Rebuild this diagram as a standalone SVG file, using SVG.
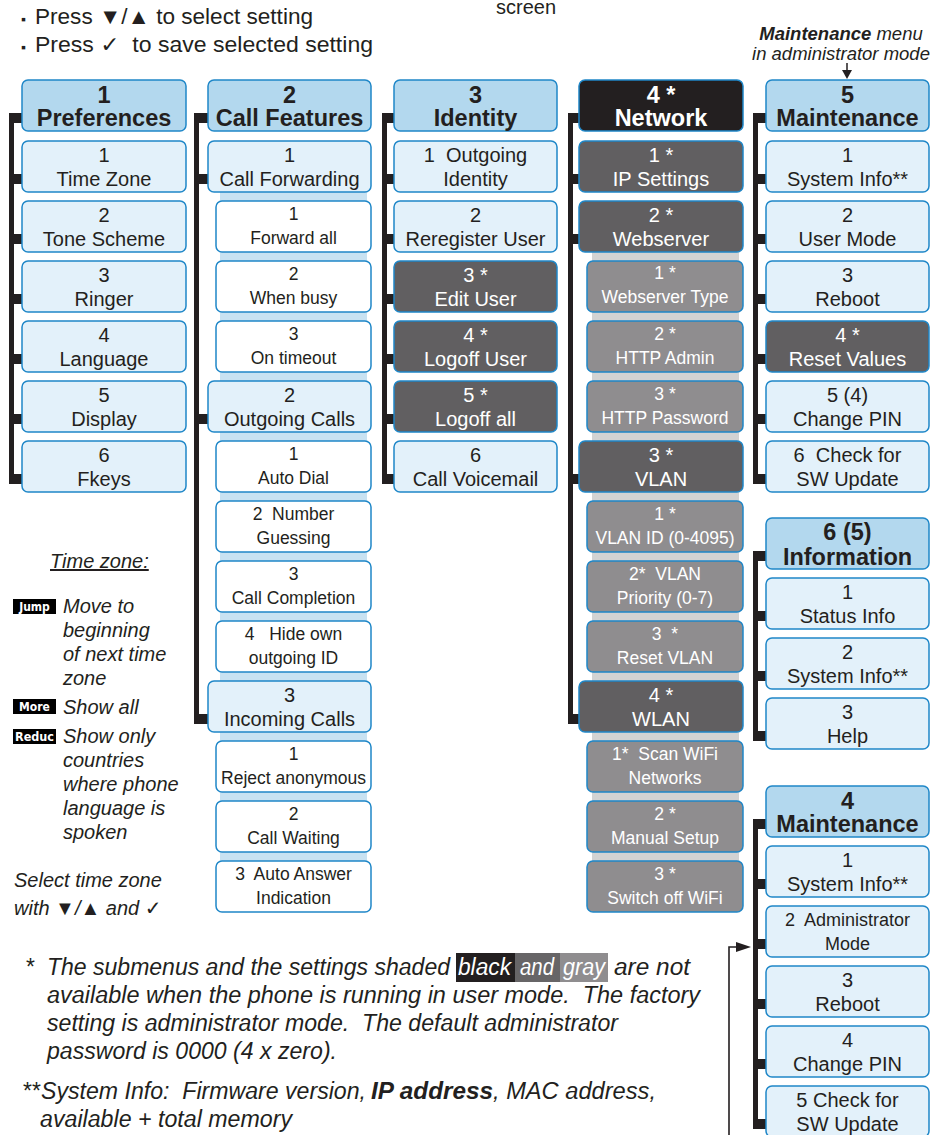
<svg xmlns="http://www.w3.org/2000/svg" width="940" height="1135" viewBox="0 0 940 1135">
<style>
rect.b{stroke:#1f87c8;stroke-width:1.5}
.hd{fill:#b3d8ee}.lt{fill:#e3f1fa}.wh{fill:#ffffff}.dk{fill:#615f61}.md{fill:#8f8d8f}.bk{fill:#231f20}
text{font-family:"Liberation Sans",Arial,"DejaVu Sans",sans-serif;fill:#231f20}
.c{text-anchor:middle}
.h{font-size:23.5px;font-weight:bold}
.m{font-size:20px}
.s{font-size:17.5px}
.w{fill:#ffffff}
.it{font-style:italic;font-size:20px}
.fn{font-style:italic;font-size:23px;white-space:pre}
.ic{font-family:"DejaVu Sans Condensed","DejaVu Sans",sans-serif;font-size:12px;font-weight:bold;fill:#ffffff;text-anchor:middle}
.pre{white-space:pre}
</style>

<!-- top instructions -->
<g id="instructions">
<text class="pre" x="21" y="24" font-size="22"><tspan font-size="14">▪</tspan></text>
<text class="pre" x="35" y="24" font-size="22" textLength="278" lengthAdjust="spacingAndGlyphs">Press ▼/▲ to select setting</text>
<text class="pre" x="21" y="52" font-size="22"><tspan font-size="14">▪</tspan></text>
<text class="pre" x="35" y="52" font-size="22" textLength="338" lengthAdjust="spacingAndGlyphs">Press ✓  to save selected setting</text>
<text x="526" y="14" font-size="20" class="c">screen</text>
<text x="841" y="40" font-size="18.5" class="c" font-style="italic"><tspan font-weight="bold">Maintenance</tspan> menu</text>
<text x="841" y="60" font-size="18.5" class="c" font-style="italic">in administrator mode</text>
</g>

<!-- connectors -->
<g id="connectors" fill="#231f20">
<!-- col1 -->
<rect x="9" y="113" width="5" height="371"/>
<rect x="9" y="113" width="13" height="10"/><rect x="9" y="174" width="13" height="10"/><rect x="9" y="234" width="13" height="10"/><rect x="9" y="294" width="13" height="10"/><rect x="9" y="354" width="13" height="10"/><rect x="9" y="414" width="13" height="10"/><rect x="9" y="474" width="13" height="10"/>
<!-- col2 -->
<rect x="194" y="113" width="5" height="611"/>
<rect x="194" y="113" width="14" height="10"/><rect x="194" y="174" width="14" height="10"/><rect x="194" y="414" width="14" height="10"/><rect x="194" y="714" width="14" height="10"/>
<!-- col3 -->
<rect x="382" y="113" width="5" height="371"/>
<rect x="382" y="113" width="12" height="10"/><rect x="382" y="174" width="12" height="10"/><rect x="382" y="234" width="12" height="10"/><rect x="382" y="294" width="12" height="10"/><rect x="382" y="354" width="12" height="10"/><rect x="382" y="414" width="12" height="10"/><rect x="382" y="474" width="12" height="10"/>
<!-- col4 -->
<rect x="568" y="113" width="5" height="611"/>
<rect x="568" y="113" width="11" height="10"/><rect x="568" y="174" width="11" height="10"/><rect x="568" y="234" width="11" height="10"/><rect x="568" y="474" width="11" height="10"/><rect x="568" y="714" width="11" height="10"/>
<!-- col5 -->
<rect x="753" y="113" width="5" height="371"/>
<rect x="753" y="113" width="13" height="10"/><rect x="753" y="174" width="13" height="10"/><rect x="753" y="234" width="13" height="10"/><rect x="753" y="294" width="13" height="10"/><rect x="753" y="354" width="13" height="10"/><rect x="753" y="414" width="13" height="10"/><rect x="753" y="474" width="13" height="10"/>
<!-- information -->
<rect x="753" y="551" width="5" height="190"/>
<rect x="753" y="551" width="13" height="10"/><rect x="753" y="611" width="13" height="10"/><rect x="753" y="671" width="13" height="10"/><rect x="753" y="731" width="13" height="10"/>
<!-- maintenance user mode -->
<rect x="753" y="819" width="5" height="310"/>
<rect x="753" y="819" width="13" height="10"/><rect x="753" y="879" width="13" height="10"/><rect x="753" y="939" width="13" height="10"/><rect x="753" y="999" width="13" height="10"/><rect x="753" y="1059" width="13" height="10"/><rect x="753" y="1119" width="13" height="10"/>
<!-- arrows -->
<line x1="847" y1="63" x2="847" y2="71" stroke="#231f20" stroke-width="1.5"/>
<polygon points="842,70 852,70 847,79"/>
<path d="M729 1135 V947 H738" fill="none" stroke="#231f20" stroke-width="1.6"/>
<polygon points="736,942 751,947 736,952"/>
<!-- backing strips -->
<rect x="220" y="192" width="147" height="189" fill="#c8e2f2"/>
<rect x="220" y="432" width="147" height="249" fill="#c8e2f2"/>
<rect x="220" y="732" width="147" height="170" fill="#c8e2f2"/>
<rect x="592" y="252" width="147" height="189" fill="#d3d3d3"/>
<rect x="592" y="492" width="147" height="189" fill="#d3d3d3"/>
<rect x="592" y="732" width="147" height="170" fill="#d3d3d3"/>
</g>

<!-- column 1 -->
<g id="pref"><rect class="b hd" x="22" y="80" width="164" height="51" rx="6"/><text class="c h" x="104" y="103">1</text><text class="c h" x="104" y="126">Preferences</text></g>
<g id="pref-1"><rect class="b lt" x="22" y="141" width="164" height="51" rx="6"/><text class="c m" x="104" y="162">1</text><text class="c m" x="104" y="186">Time Zone</text></g>
<g id="pref-2"><rect class="b lt" x="22" y="201" width="164" height="51" rx="6"/><text class="c m" x="104" y="222">2</text><text class="c m" x="104" y="246">Tone Scheme</text></g>
<g id="pref-3"><rect class="b lt" x="22" y="261" width="164" height="51" rx="6"/><text class="c m" x="104" y="282">3</text><text class="c m" x="104" y="306">Ringer</text></g>
<g id="pref-4"><rect class="b lt" x="22" y="321" width="164" height="51" rx="6"/><text class="c m" x="104" y="342">4</text><text class="c m" x="104" y="366">Language</text></g>
<g id="pref-5"><rect class="b lt" x="22" y="381" width="164" height="51" rx="6"/><text class="c m" x="104" y="402">5</text><text class="c m" x="104" y="426">Display</text></g>
<g id="pref-6"><rect class="b lt" x="22" y="441" width="164" height="51" rx="6"/><text class="c m" x="104" y="462">6</text><text class="c m" x="104" y="486">Fkeys</text></g>

<!-- column 2 -->
<g id="call"><rect class="b hd" x="208" y="80" width="163" height="51" rx="6"/><text class="c h" x="289.5" y="103">2</text><text class="c h" x="289.5" y="126">Call Features</text></g>
<g id="call-1"><rect class="b lt" x="208" y="141" width="163" height="51" rx="6"/><text class="c m" x="289.5" y="162">1</text><text class="c m" x="289.5" y="186">Call Forwarding</text></g>
<g id="call-1-1"><rect class="b wh" x="216" y="201" width="155" height="51" rx="6"/><text class="c s" x="293.5" y="220">1</text><text class="c s" x="293.5" y="244">Forward all</text></g>
<g id="call-1-2"><rect class="b wh" x="216" y="261" width="155" height="51" rx="6"/><text class="c s" x="293.5" y="280">2</text><text class="c s" x="293.5" y="304">When busy</text></g>
<g id="call-1-3"><rect class="b wh" x="216" y="321" width="155" height="51" rx="6"/><text class="c s" x="293.5" y="340">3</text><text class="c s" x="293.5" y="364">On timeout</text></g>
<g id="call-2"><rect class="b lt" x="208" y="381" width="163" height="51" rx="6"/><text class="c m" x="289.5" y="402">2</text><text class="c m" x="289.5" y="426">Outgoing Calls</text></g>
<g id="call-2-1"><rect class="b wh" x="216" y="441" width="155" height="51" rx="6"/><text class="c s" x="293.5" y="460">1</text><text class="c s" x="293.5" y="484">Auto Dial</text></g>
<g id="call-2-2"><rect class="b wh" x="216" y="501" width="155" height="51" rx="6"/><text class="c s pre" x="293.5" y="520">2  Number</text><text class="c s" x="293.5" y="544">Guessing</text></g>
<g id="call-2-3"><rect class="b wh" x="216" y="561" width="155" height="51" rx="6"/><text class="c s" x="293.5" y="580">3</text><text class="c s" x="293.5" y="604">Call Completion</text></g>
<g id="call-2-4"><rect class="b wh" x="216" y="621" width="155" height="51" rx="6"/><text class="c s pre" x="293.5" y="640">4   Hide own</text><text class="c s" x="293.5" y="664">outgoing ID</text></g>
<g id="call-3"><rect class="b lt" x="208" y="681" width="163" height="51" rx="6"/><text class="c m" x="289.5" y="702">3</text><text class="c m" x="289.5" y="726">Incoming Calls</text></g>
<g id="call-3-1"><rect class="b wh" x="216" y="741" width="155" height="51" rx="6"/><text class="c s" x="293.5" y="760">1</text><text class="c s" x="293.5" y="784">Reject anonymous</text></g>
<g id="call-3-2"><rect class="b wh" x="216" y="801" width="155" height="51" rx="6"/><text class="c s" x="293.5" y="820">2</text><text class="c s" x="293.5" y="844">Call Waiting</text></g>
<g id="call-3-3"><rect class="b wh" x="216" y="861" width="155" height="51" rx="6"/><text class="c s pre" x="293.5" y="880">3  Auto Answer</text><text class="c s" x="293.5" y="904">Indication</text></g>

<!-- column 3 -->
<g id="ident"><rect class="b hd" x="394" y="80" width="163" height="51" rx="6"/><text class="c h" x="475.5" y="103">3</text><text class="c h" x="475.5" y="126">Identity</text></g>
<g id="ident-1"><rect class="b lt" x="394" y="141" width="163" height="51" rx="6"/><text class="c m pre" x="475.5" y="162">1  Outgoing</text><text class="c m" x="475.5" y="186">Identity</text></g>
<g id="ident-2"><rect class="b lt" x="394" y="201" width="163" height="51" rx="6"/><text class="c m" x="475.5" y="222">2</text><text class="c m" x="475.5" y="246">Reregister User</text></g>
<g id="ident-3"><rect class="b dk" x="394" y="261" width="163" height="51" rx="6"/><text class="c m w" x="475.5" y="282">3 *</text><text class="c m w" x="475.5" y="306">Edit User</text></g>
<g id="ident-4"><rect class="b dk" x="394" y="321" width="163" height="51" rx="6"/><text class="c m w" x="475.5" y="342">4 *</text><text class="c m w" x="475.5" y="366">Logoff User</text></g>
<g id="ident-5"><rect class="b dk" x="394" y="381" width="163" height="51" rx="6"/><text class="c m w" x="475.5" y="402">5 *</text><text class="c m w" x="475.5" y="426">Logoff all</text></g>
<g id="ident-6"><rect class="b lt" x="394" y="441" width="163" height="51" rx="6"/><text class="c m" x="475.5" y="462">6</text><text class="c m" x="475.5" y="486">Call Voicemail</text></g>

<!-- column 4 -->
<g id="net"><rect class="b bk" x="579" y="80" width="164" height="51" rx="6"/><text class="c h w" x="661" y="103">4 *</text><text class="c h w" x="661" y="126">Network</text></g>
<g id="net-1"><rect class="b dk" x="579" y="141" width="164" height="51" rx="6"/><text class="c m w" x="661" y="162">1 *</text><text class="c m w" x="661" y="186">IP Settings</text></g>
<g id="net-2"><rect class="b dk" x="579" y="201" width="164" height="51" rx="6"/><text class="c m w" x="661" y="222">2 *</text><text class="c m w" x="661" y="246">Webserver</text></g>
<g id="net-2-1"><rect class="b md" x="587" y="261" width="156" height="51" rx="6"/><text class="c s w" x="665" y="279">1 *</text><text class="c s w" x="665" y="303">Webserver Type</text></g>
<g id="net-2-2"><rect class="b md" x="587" y="321" width="156" height="51" rx="6"/><text class="c s w" x="665" y="340">2 *</text><text class="c s w" x="665" y="364">HTTP Admin</text></g>
<g id="net-2-3"><rect class="b md" x="587" y="381" width="156" height="51" rx="6"/><text class="c s w" x="665" y="400">3 *</text><text class="c s w" x="665" y="424">HTTP Password</text></g>
<g id="net-3"><rect class="b dk" x="579" y="441" width="164" height="51" rx="6"/><text class="c m w" x="661" y="462">3 *</text><text class="c m w" x="661" y="486">VLAN</text></g>
<g id="net-3-1"><rect class="b md" x="587" y="501" width="156" height="51" rx="6"/><text class="c s w" x="665" y="520">1 *</text><text class="c s w" x="665" y="544">VLAN ID (0-4095)</text></g>
<g id="net-3-2"><rect class="b md" x="587" y="561" width="156" height="51" rx="6"/><text class="c s w pre" x="665" y="580">2*  VLAN</text><text class="c s w" x="665" y="604">Priority (0-7)</text></g>
<g id="net-3-3"><rect class="b md" x="587" y="621" width="156" height="51" rx="6"/><text class="c s w pre" x="665" y="640">3  *</text><text class="c s w" x="665" y="664">Reset VLAN</text></g>
<g id="net-4"><rect class="b dk" x="579" y="681" width="164" height="51" rx="6"/><text class="c m w" x="661" y="702">4 *</text><text class="c m w" x="661" y="726">WLAN</text></g>
<g id="net-4-1"><rect class="b md" x="587" y="741" width="156" height="51" rx="6"/><text class="c s w pre" x="665" y="760">1*  Scan WiFi</text><text class="c s w" x="665" y="784">Networks</text></g>
<g id="net-4-2"><rect class="b md" x="587" y="801" width="156" height="51" rx="6"/><text class="c s w" x="665" y="820">2 *</text><text class="c s w" x="665" y="844">Manual Setup</text></g>
<g id="net-4-3"><rect class="b md" x="587" y="861" width="156" height="51" rx="6"/><text class="c s w" x="665" y="880">3 *</text><text class="c s w" x="665" y="904">Switch off WiFi</text></g>

<!-- column 5 -->
<g id="maint"><rect class="b hd" x="766" y="80" width="163" height="51" rx="6"/><text class="c h" x="847.5" y="103">5</text><text class="c h" x="847.5" y="126">Maintenance</text></g>
<g id="maint-1"><rect class="b lt" x="766" y="141" width="163" height="51" rx="6"/><text class="c m" x="847.5" y="162">1</text><text class="c m" x="847.5" y="186">System Info**</text></g>
<g id="maint-2"><rect class="b lt" x="766" y="201" width="163" height="51" rx="6"/><text class="c m" x="847.5" y="222">2</text><text class="c m" x="847.5" y="246">User Mode</text></g>
<g id="maint-3"><rect class="b lt" x="766" y="261" width="163" height="51" rx="6"/><text class="c m" x="847.5" y="282">3</text><text class="c m" x="847.5" y="306">Reboot</text></g>
<g id="maint-4"><rect class="b dk" x="766" y="321" width="163" height="51" rx="6"/><text class="c m w" x="847.5" y="342">4 *</text><text class="c m w" x="847.5" y="366">Reset Values</text></g>
<g id="maint-5"><rect class="b lt" x="766" y="381" width="163" height="51" rx="6"/><text class="c m" x="847.5" y="402">5 (4)</text><text class="c m" x="847.5" y="426">Change PIN</text></g>
<g id="maint-6"><rect class="b lt" x="766" y="441" width="163" height="51" rx="6"/><text class="c m pre" x="847.5" y="462">6  Check for</text><text class="c m" x="847.5" y="486">SW Update</text></g>

<!-- information -->
<g id="info"><rect class="b hd" x="766" y="518" width="163" height="51" rx="6"/><text class="c h" x="847.5" y="540">6 (5)</text><text class="c h" x="847.5" y="565">Information</text></g>
<g id="info-1"><rect class="b lt" x="766" y="578" width="163" height="51" rx="6"/><text class="c m" x="847.5" y="599">1</text><text class="c m" x="847.5" y="623">Status Info</text></g>
<g id="info-2"><rect class="b lt" x="766" y="638" width="163" height="51" rx="6"/><text class="c m" x="847.5" y="659">2</text><text class="c m" x="847.5" y="683">System Info**</text></g>
<g id="info-3"><rect class="b lt" x="766" y="698" width="163" height="51" rx="6"/><text class="c m" x="847.5" y="719">3</text><text class="c m" x="847.5" y="743">Help</text></g>

<!-- maintenance (user mode) -->
<g id="umaint"><rect class="b hd" x="766" y="786" width="163" height="51" rx="6"/><text class="c h" x="847.5" y="809">4</text><text class="c h" x="847.5" y="832">Maintenance</text></g>
<g id="umaint-1"><rect class="b lt" x="766" y="846" width="163" height="51" rx="6"/><text class="c m" x="847.5" y="867">1</text><text class="c m" x="847.5" y="891">System Info**</text></g>
<g id="umaint-2"><rect class="b lt" x="766" y="906" width="163" height="51" rx="6"/><text class="c pre" font-size="18" x="847.5" y="926">2  Administrator</text><text class="c" font-size="18" x="847.5" y="950">Mode</text></g>
<g id="umaint-3"><rect class="b lt" x="766" y="966" width="163" height="51" rx="6"/><text class="c m" x="847.5" y="987">3</text><text class="c m" x="847.5" y="1011">Reboot</text></g>
<g id="umaint-4"><rect class="b lt" x="766" y="1026" width="163" height="51" rx="6"/><text class="c m" x="847.5" y="1047">4</text><text class="c m" x="847.5" y="1071">Change PIN</text></g>
<g id="umaint-5"><rect class="b lt" x="766" y="1086" width="163" height="51" rx="6"/><text class="c m" x="847.5" y="1107">5 Check for</text><text class="c m" x="847.5" y="1131">SW Update</text></g>

<!-- time zone legend -->
<g id="legend">
<text class="it" x="50" y="568" text-decoration="underline">Time zone:</text>
<rect x="13" y="599" width="43" height="15" fill="#000"/><text class="ic" x="34.5" y="611">Jump</text>
<text class="it" x="63" y="613">Move to</text>
<text class="it" x="63" y="637">beginning</text>
<text class="it" x="63" y="661">of next time</text>
<text class="it" x="63" y="685">zone</text>
<rect x="13" y="699" width="43" height="15" fill="#000"/><text class="ic" x="34.5" y="711">More</text>
<text class="it" x="63" y="714">Show all</text>
<rect x="13" y="729" width="43" height="15" fill="#000"/><text class="ic" x="34.5" y="741" textLength="39" lengthAdjust="spacingAndGlyphs">Reduc</text>
<text class="it" x="63" y="743">Show only</text>
<text class="it" x="63" y="767">countries</text>
<text class="it" x="63" y="791">where phone</text>
<text class="it" x="63" y="815">language is</text>
<text class="it" x="63" y="839">spoken</text>
<text class="it" x="14" y="887">Select time zone</text>
<text class="it" x="14" y="915">with ▼/▲ and ✓</text>
</g>

<!-- footnotes -->
<g id="footnotes">
<rect x="456" y="953" width="59" height="29" fill="#231f20"/>
<rect x="515" y="953" width="45" height="29" fill="#676567"/>
<rect x="560" y="953" width="48" height="29" fill="#8f8d8f"/>
<text class="fn" x="25" y="975">*</text>
<text class="fn" x="47" y="975" textLength="403" lengthAdjust="spacingAndGlyphs">The submenus and the settings shaded</text>
<text class="fn" x="458" y="975" textLength="53" lengthAdjust="spacingAndGlyphs" style="fill:#ffffff">black</text>
<text class="fn" x="520" y="975" textLength="34" lengthAdjust="spacingAndGlyphs" style="fill:#ffffff">and</text>
<text class="fn" x="563" y="975" textLength="42" lengthAdjust="spacingAndGlyphs" style="fill:#ffffff">gray</text>
<text class="fn" x="614" y="975" textLength="76" lengthAdjust="spacingAndGlyphs">are not</text>
<text class="fn" x="47" y="1003" textLength="653" lengthAdjust="spacingAndGlyphs">available when the phone is running in user mode.  The factory</text>
<text class="fn" x="47" y="1031" textLength="571" lengthAdjust="spacingAndGlyphs">setting is administrator mode.  The default administrator</text>
<text class="fn" x="47" y="1059" textLength="290" lengthAdjust="spacingAndGlyphs">password is 0000 (4 x zero).</text>
<text class="fn" x="22" y="1099" font-size="19">**</text>
<text class="fn" x="41" y="1099" textLength="325" lengthAdjust="spacingAndGlyphs">System Info:  Firmware version,</text>
<text class="fn" x="371" y="1099" textLength="122" lengthAdjust="spacingAndGlyphs" font-weight="bold">IP address</text>
<text class="fn" x="493" y="1099" textLength="163" lengthAdjust="spacingAndGlyphs">, MAC address,</text>
<text class="fn" x="40" y="1127" textLength="252" lengthAdjust="spacingAndGlyphs">available + total memory</text>
</g>
</svg>
